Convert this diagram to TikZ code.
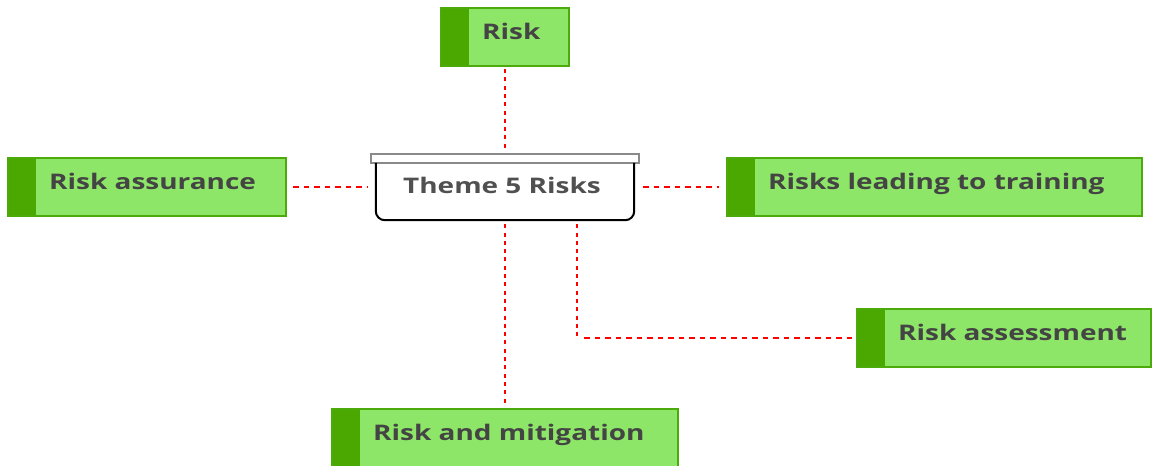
\documentclass[tikz,border=0pt]{standalone}
\usepackage{fontspec}
\setmainfont{Open Sans}
\usepackage{graphicx}
\definecolor{leaffill}{HTML}{8EE668}
\definecolor{leafdark}{HTML}{4AA800}
\definecolor{leafline}{HTML}{4CAA0A}
\definecolor{labelgray}{HTML}{444444}
\definecolor{themegray}{HTML}{505050}
\definecolor{lidgray}{HTML}{8A8A8A}
\newcommand\widetext[1]{\scalebox{1.3}[1]{#1}}
\tikzset{
  leaf/.style={rectangle, draw=leafline, line width=2pt, fill=leaffill,
    minimum height=58pt, inner sep=0pt,
    path picture={\fill[leafdark] (path picture bounding box.north west)
      rectangle ([xshift=28pt]path picture bounding box.south west);}},
  leaftext/.style={anchor=base west, inner sep=0pt, text=labelgray,
    font=\fontsize{21.5}{25}\selectfont\bfseries},
  link/.style={red, line width=2pt, dash pattern=on 5.5pt off 5pt},
  vlink/.style={red, line width=2.4pt, dash pattern=on 4pt off 4.3pt},
}
\begin{document}
\begin{tikzpicture}[x=1pt,y=-1pt]
\useasboundingbox (0,0) rectangle (1152,466);

% central topic: lid and body with rounded lower corners
\node[rectangle, draw=lidgray, line width=2pt, fill=white, minimum width=268pt,
  minimum height=9pt, inner sep=0pt] (lid) at (505,158.5) {};
\node[rectangle, minimum width=258pt, minimum height=57pt, inner sep=0pt] (theme) at (505,191.5) {};
\draw[line width=2pt] (theme.north west)
  {[rounded corners=9pt] -- (theme.south west) -- (theme.south east)} -- (theme.north east);
\node[leaftext, text=themegray, anchor=base] at ([xshift=-3pt,yshift=-1.5pt]theme.center) {\widetext{Theme 5 Risks}};

% subtopics
\node[leaf, minimum width=128pt] (risk)   at (505,37)    {};
\node[leaf, minimum width=278pt] (assur)  at (147,187)   {};
\node[leaf, minimum width=415pt] (train)  at (934.5,187) {};
\node[leaf, minimum width=294pt] (assess) at (1004,338)  {};
\node[leaf, minimum width=346pt] (mitig)  at (505,438)   {};

\node[leaftext] (t1) at ([xshift=42pt,yshift=-2.5pt]risk.west)   {\widetext{Risk}};
\node[leaftext] (t2) at ([xshift=42pt,yshift=-2.5pt]assur.west)  {\widetext{Risk assurance}};
\node[leaftext] (t3) at ([xshift=42pt,yshift=-2.5pt]train.west)  {\widetext{Risks leading to training}};
\node[leaftext] (t4) at ([xshift=42pt,yshift=-2.5pt]assess.west) {\widetext{Risk assessment}};
\node[leaftext] (t5) at ([xshift=42pt,yshift=-2.5pt]mitig.west)  {\widetext{Risk and mitigation}};

% connectors
\draw[vlink, shorten <=2pt, shorten >=2pt] (risk.south) -- (lid.north);
\draw[link, shorten <=6pt, shorten >=8pt] (assur.east) -- (theme.west |- assur.east);
\draw[link, shorten <=9pt, shorten >=7pt] (theme.east |- train.west) -- (train.west);
\draw[vlink, shorten <=4pt, shorten >=4pt] (theme.south) -- (mitig.north);
\draw[vlink, shorten <=4pt] ([xshift=72pt]theme.south) -- ([xshift=72pt]theme.south |- assess.west) coordinate (bend);
\draw[link, shorten <=7pt, shorten >=2pt] (bend) -- (assess.west);
\end{tikzpicture}
\end{document}
